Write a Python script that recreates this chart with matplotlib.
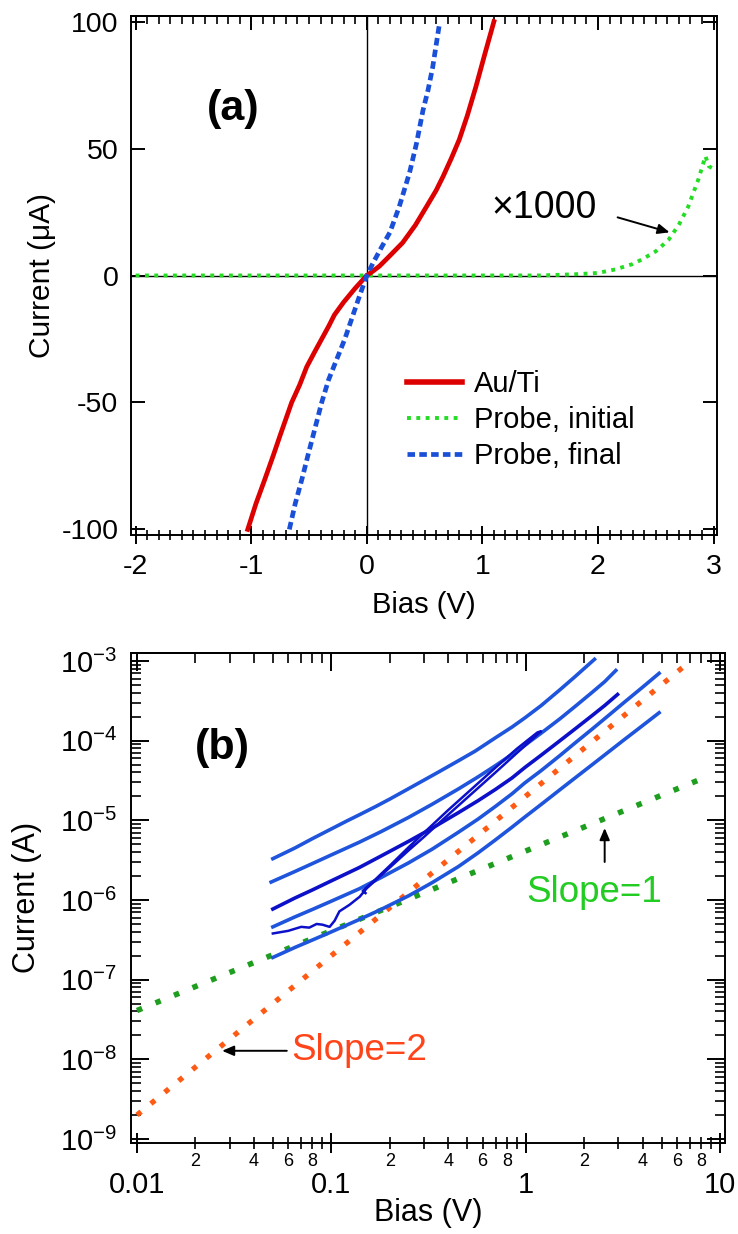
import math
import matplotlib
matplotlib.use("Agg")
import matplotlib.pyplot as plt
from matplotlib.ticker import FixedLocator, MultipleLocator, FuncFormatter, LogLocator, NullFormatter, FixedFormatter
from matplotlib.lines import Line2D

plt.rcParams.update({
    "font.family": ["Liberation Sans", "DejaVu Sans"],
    "mathtext.fontset": "custom",
    "mathtext.rm": "Liberation Sans",
    "mathtext.it": "Liberation Sans:italic",
    "mathtext.bf": "Liberation Sans:bold",
    "axes.unicode_minus": False,
    "axes.linewidth": 1.4,
})

# ---------------- Panel (a) data ----------------
auti_v = [-1.03, -0.96, -0.88, -0.81, -0.75, -0.65, -0.58, -0.52, -0.45, -0.39, -0.33,
          -0.28, -0.20, -0.10, 0.0, 0.05, 0.11, 0.20, 0.31, 0.42, 0.515, 0.60, 0.66,
          0.73, 0.80, 0.87, 0.945, 1.02, 1.10]
auti_i = [-100, -90, -80, -71, -63, -50, -43, -36, -30, -25, -20,
          -15.5, -10.5, -5, 0, 1.6, 3.7, 7.8, 12.9, 19.8, 27, 33.5, 39,
          46, 53.5, 63, 74.5, 87, 100]

final_v = [-0.67, -0.62, -0.56, -0.51, -0.47, -0.43, -0.39, -0.33, -0.26, -0.19, -0.13,
           -0.07, 0.0, 0.055, 0.12, 0.20, 0.28, 0.37, 0.43, 0.486, 0.53, 0.57, 0.63]
final_i = [-100, -90, -80, -71, -64, -57, -50, -41, -33, -25, -17,
           -9, 0, 5, 10.5, 17, 27, 40.5, 52, 65, 73, 82, 99.5]

init_v = [-2.0, -1.0, 0.0, 1.0, 1.5, 1.81, 2.0, 2.15, 2.3, 2.38, 2.5, 2.61, 2.7,
          2.78, 2.87, 2.93, 2.96, 3.0]
init_i = [0, 0, 0, 0, 0, 0.5, 1.0, 2.4, 4.5, 6.3, 9.5, 14, 20,
          27, 38, 47, 43, 42]

a_xticks = [-2, -1, 0, 1, 2, 3]
a_yticks = [-100, -50, 0, 50, 100]
a_legend = ["Au/Ti", "Probe, initial", "Probe, final"]

# ---------------- Panel (b) data ----------------
A_v = [0.05, 0.065, 0.08, 0.10, 0.12, 0.139, 0.17, 0.20, 0.25, 0.30, 0.36, 0.451,
       0.55, 0.70, 0.85, 0.99, 1.2, 1.5, 1.8, 2.26]
A_i = [3.3e-6, 4.5e-6, 5.9e-6, 7.8e-6, 9.8e-6, 1.17e-5, 1.5e-5, 1.85e-5, 2.5e-5, 3.2e-5, 4.1e-5, 5.6e-5,
       7.4e-5, 1.09e-4, 1.48e-4, 1.93e-4, 2.75e-4, 4.35e-4, 6.4e-4, 1.05e-3]

B_v = [0.049, 0.065, 0.08, 0.10, 0.139, 0.18, 0.25, 0.33, 0.451, 0.57, 0.70, 0.85,
       0.99, 1.2, 1.5, 1.8, 2.2, 2.55, 2.91]
B_i = [1.68e-6, 2.28e-6, 2.87e-6, 3.68e-6, 5.3e-6, 7.2e-6, 1.09e-5, 1.59e-5, 2.48e-5, 3.52e-5, 4.87e-5, 6.72e-5,
       8.75e-5, 1.24e-4, 1.88e-4, 2.7e-4, 4.05e-4, 5.5e-4, 7.6e-4]

C_v = [0.05, 0.065, 0.08, 0.10, 0.139, 0.18, 0.25, 0.33, 0.451, 0.57, 0.70, 0.85,
       0.99, 1.2, 1.5, 1.8, 2.2, 2.55, 2.97]
C_i = [7.7e-7, 1.06e-6, 1.34e-6, 1.74e-6, 2.55e-6, 3.56e-6, 5.46e-6, 7.97e-6, 1.25e-5, 1.77e-5, 2.45e-5, 3.4e-5,
       4.6e-5, 6.56e-5, 9.98e-5, 1.41e-4, 2.07e-4, 2.76e-4, 3.8e-4]

D_v = [0.05, 0.065, 0.08, 0.10, 0.139, 0.18, 0.25, 0.33, 0.451, 0.57, 0.70, 0.85,
       0.99, 1.2, 1.5, 1.8, 2.2, 2.7, 3.2, 4.0, 4.86]
D_i = [4.6e-7, 6.14e-7, 7.62e-7, 9.67e-7, 1.38e-6, 1.91e-6, 2.93e-6, 4.34e-6, 7.1e-6, 1.04e-5, 1.5e-5, 2.15e-5,
       2.95e-5, 4.2e-5, 6.5e-5, 9.4e-5, 1.4e-4, 2.12e-4, 3.0e-4, 4.7e-4, 7.0e-4]

E_v = [0.05, 0.06, 0.07, 0.077, 0.084, 0.09, 0.098, 0.104, 0.11, 0.124, 0.14, 0.152,
       0.20, 0.25, 0.30, 0.40, 0.50, 0.70, 0.90, 1.2,
       1.15, 0.90, 0.70, 0.50, 0.40, 0.30, 0.25, 0.20, 0.17, 0.155, 0.145, 0.15]
E_i = [3.8e-7, 4.1e-7, 4.6e-7, 4.5e-7, 5.0e-7, 4.9e-7, 4.6e-7, 5.5e-7, 7.2e-7, 8.7e-7, 1.1e-6, 1.4e-6,
       2.56e-6, 4.2e-6, 6.2e-6, 1.18e-5, 1.92e-5, 4.0e-5, 6.98e-5, 1.31e-4,
       1.27e-4, 7.9e-5, 4.6e-5, 2.2e-5, 1.35e-5, 7.0e-6, 4.6e-6, 2.7e-6, 1.85e-6, 1.5e-6, 1.3e-6, 1.22e-6]

F_v = [0.05, 0.065, 0.08, 0.10, 0.139, 0.18, 0.25, 0.33, 0.451, 0.57, 0.70, 0.85,
       0.99, 1.2, 1.5, 1.8, 2.2, 2.7, 3.2, 4.0, 4.86]
F_i = [1.9e-7, 2.54e-7, 3.15e-7, 3.98e-7, 5.68e-7, 7.6e-7, 1.13e-6, 1.65e-6, 2.63e-6, 3.92e-6, 5.7e-6, 8.2e-6,
       1.1e-5, 1.58e-5, 2.42e-5, 3.42e-5, 5.0e-5, 7.38e-5, 1.02e-4, 1.55e-4, 2.24e-4]

slope1_v = [0.01, 8.6]
slope1_i = [4.1e-8, 3.55e-5]
slope2_v = [0.01, 6.8]
slope2_i = [2.0e-9, 9.3e-4]

b_xmajor = [0.01, 0.1, 1, 10]
b_xmajor_labels = ["0.01", "0.1", "1", "10"]
b_xminor_labeled = [2, 4, 6, 8]

# ---------------- Figure ----------------
W, H = 738, 1234
fig = plt.figure(figsize=(W / 100, H / 100), dpi=100)

def box(l, t, r, b):
    return [l / W, 1 - b / H, (r - l) / W, (b - t) / H]

ARROW = dict(arrowstyle="-|>,head_length=0.7,head_width=0.3",
             color="black", lw=1.4, shrinkA=0, shrinkB=0)

# ===== Panel (a) =====
ax1 = fig.add_axes(box(131, 16, 717, 535))
ax1.axhline(0, color="black", lw=1.0, zorder=1)
ax1.axvline(0, color="black", lw=1.0, zorder=1)
ax1.plot(init_v, init_i, color="#22dd22", lw=2.8, ls=(0, (1, 1.4)), zorder=3)
ax1.plot(auti_v, auti_i, color="#dd0000", lw=3.4, zorder=4)
ax1.plot(final_v, final_i, color="#1a4fd8", lw=3.4, ls=(0, (1.6, 0.9)), zorder=5)

ax1.set_xlim(-2.04, 3.03)
ax1.set_ylim(-102.2, 102.2)
ax1.xaxis.set_major_locator(FixedLocator(a_xticks))
ax1.xaxis.set_minor_locator(MultipleLocator(0.1))
ax1.yaxis.set_major_locator(FixedLocator(a_yticks))
ax1.tick_params(axis="x", which="major", direction="inout", length=13, width=1.4,
                labelsize=20.5, pad=7, top=False)
ax1.tick_params(axis="x", which="minor", direction="inout", length=7, width=1.2, top=False)
ax1.tick_params(axis="y", which="major", direction="in", length=10, width=1.4,
                labelsize=20.5, pad=9, right=True)
sec1 = ax1.secondary_xaxis("top")
sec1.xaxis.set_major_locator(FixedLocator(a_xticks))
sec1.xaxis.set_minor_locator(MultipleLocator(0.1))
sec1.tick_params(axis="x", which="major", direction="in", length=10, width=1.4, labeltop=False)
sec1.tick_params(axis="x", which="minor", direction="in", length=6, width=1.2)

ax1.set_xlabel("Bias (V)", fontsize=21)
ax1.xaxis.set_label_coords(0.5, -0.108)
ax1.xaxis.label.set_va("top")
ax1.set_ylabel("Current (μA)", fontsize=21.5)
ax1.yaxis.set_label_coords(-0.128, 0.5)

ax1.text(-1.16, 65.5, "(a)", fontsize=31, fontweight="bold", ha="center", va="center")
ax1.text(1.53, 26.4, "×1000", fontsize=27, ha="center", va="center")
ax1.annotate("", xy=(2.62, 17.0), xytext=(2.17, 22.9), arrowprops=ARROW)

handles = [Line2D([], [], color="#dd0000", lw=4),
           Line2D([], [], color="#22dd22", lw=2.8, ls=(0, (1, 1.4))),
           Line2D([], [], color="#1a4fd8", lw=3.4, ls=(0, (1.6, 0.9)))]
ax1.legend(handles, a_legend, loc="upper left", bbox_to_anchor=(0.471, 0.318),
           frameon=False, fontsize=21, handlelength=1.9, handletextpad=0.4,
           labelspacing=0.28, borderpad=0, borderaxespad=0)

# ===== Panel (b) =====
ax2 = fig.add_axes(box(131, 652.7, 725, 1143))
ax2.set_xscale("log")
ax2.set_yscale("log")
light = "#1f55dd"
dark = "#0c10c8"
ax2.plot(slope1_v, slope1_i, color="#1e9e1e", lw=4.0, ls=(0, (1, 2.6)), zorder=2)
ax2.plot(slope2_v, slope2_i, color="#ff5a14", lw=3.8, ls=(0, (1, 2.4)), zorder=2)
ax2.plot(A_v, A_i, color=light, lw=2.6, zorder=3)
ax2.plot(B_v, B_i, color=light, lw=2.6, zorder=3)
ax2.plot(C_v, C_i, color=dark, lw=2.6, zorder=3)
ax2.plot(D_v, D_i, color=light, lw=2.6, zorder=3)
ax2.plot(E_v, E_i, color=dark, lw=1.8, zorder=3)
ax2.plot(F_v, F_i, color=light, lw=2.6, zorder=3)

ax2.set_xlim(10 ** (-2 - 6 / 194.5), 10 ** (1 + 5 / 194.5))
ax2.set_ylim(10 ** (-9 - 4 / 79.7), 10 ** (-3 + 8.3 / 79.7))

ax2.xaxis.set_major_locator(FixedLocator(b_xmajor))
ax2.xaxis.set_major_formatter(FixedFormatter(b_xmajor_labels))
ax2.xaxis.set_minor_locator(LogLocator(base=10, subs=range(2, 10), numticks=20))

def minor_fmt(v, pos):
    if v <= 0:
        return ""
    d = int(round(v / 10 ** math.floor(math.log10(v) + 1e-9)))
    return str(d) if d in b_xminor_labeled else ""

ax2.xaxis.set_minor_formatter(FuncFormatter(minor_fmt))
ax2.yaxis.set_major_locator(LogLocator(base=10, numticks=20))
ax2.yaxis.set_minor_locator(LogLocator(base=10, subs=range(2, 10), numticks=20))
ax2.yaxis.set_minor_formatter(NullFormatter())

ax2.tick_params(axis="x", which="major", direction="inout", length=14, width=1.4,
                labelsize=21, pad=13, top=False)
ax2.tick_params(axis="x", which="minor", direction="inout", length=8, width=1.2,
                labelsize=13, pad=3, top=False)
ax2.tick_params(axis="y", which="major", direction="in", length=13, width=1.4,
                labelsize=21, pad=10, right=True)
ax2.tick_params(axis="y", which="minor", direction="in", length=7, width=1.2, right=True)
sec2 = ax2.secondary_xaxis("top")
sec2.xaxis.set_major_locator(FixedLocator(b_xmajor))
sec2.xaxis.set_minor_locator(LogLocator(base=10, subs=range(2, 10), numticks=20))
sec2.tick_params(axis="x", which="major", direction="in", length=13, width=1.4, labeltop=False)
sec2.tick_params(axis="x", which="minor", direction="in", length=7, width=1.2, labeltop=False)
sec2.xaxis.set_minor_formatter(NullFormatter())

ax2.set_xlabel("Bias (V)", fontsize=22)
ax2.xaxis.set_label_coords(0.5, -0.112)
ax2.xaxis.label.set_va("top")
ax2.set_ylabel("Current (A)", fontsize=22)
ax2.yaxis.set_label_coords(-0.15, 0.5)

ax2.text(0.0275, 8.2e-5, "(b)", fontsize=31, fontweight="bold", ha="center", va="center")
ax2.text(2.26, 1.23e-6, "Slope=1", fontsize=26.5, color="#22cc22", ha="center", va="center")
ax2.annotate("", xy=(2.55, 8.0e-6), xytext=(2.55, 3.0e-6), arrowprops=ARROW)
ax2.text(0.062, 1.28e-8, "Slope=2", fontsize=26.5, color="#ff4419", ha="left", va="center")
ax2.annotate("", xy=(0.0274, 1.28e-8), xytext=(0.059, 1.28e-8), arrowprops=ARROW)

fig.savefig("out.png", dpi=100)
